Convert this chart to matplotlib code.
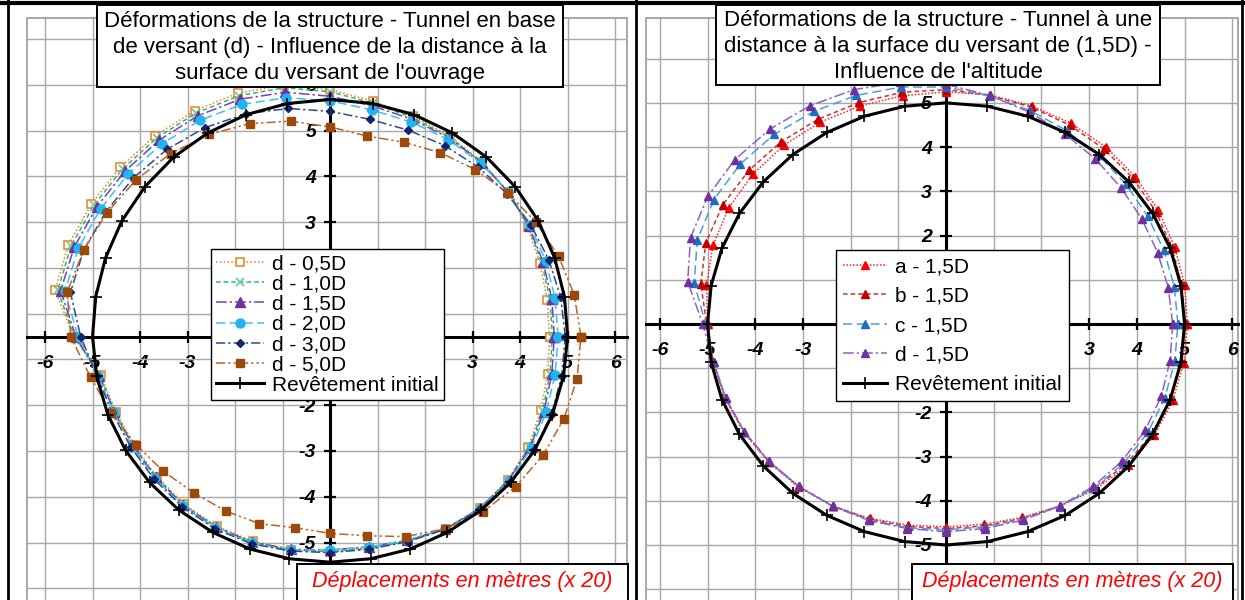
import numpy as np
import matplotlib
matplotlib.use("Agg")
import matplotlib.pyplot as plt
from matplotlib.patches import Rectangle
from matplotlib.lines import Line2D

W, H = 1245, 600
plt.rcParams['font.family'] = ['Liberation Sans', 'DejaVu Sans']

# Polar sampling of the lining nodes (degrees, counter-clockwise from +x)
angles_deg = [0, 10, 20, 30, 40, 50, 60, 70, 80, 90, 100, 110, 120, 130, 140, 150, 160, 170,
              180, 190, 200, 210, 220, 230, 240, 250, 260, 270, 280, 290, 300, 310, 320, 330, 340, 350]

# ---- Left chart: influence of the distance to the slope surface (radii, m) ----
left_labels = ["d - 0,5D", "d - 1,0D", "d - 1,5D", "d - 2,0D", "d - 3,0D", "d - 5,0D"]
r_d05 = [4.62, 4.64, 4.70, 4.80, 4.90, 4.98, 5.05, 5.12, 5.22, 5.40, 5.58, 5.66, 5.70, 5.73, 5.76, 5.80, 5.86, 5.88,
         5.40, 4.90, 4.80, 4.76, 4.76, 4.78, 4.78, 4.76, 4.73, 4.70, 4.70, 4.76, 4.86, 4.90, 4.88, 4.82, 4.72, 4.65]
r_d10 = [4.68, 4.70, 4.74, 4.82, 4.90, 4.97, 5.03, 5.09, 5.18, 5.35, 5.52, 5.60, 5.64, 5.67, 5.70, 5.74, 5.80, 5.82,
         5.38, 4.92, 4.82, 4.78, 4.78, 4.80, 4.80, 4.78, 4.74, 4.70, 4.70, 4.76, 4.86, 4.90, 4.89, 4.84, 4.76, 4.70]
r_d15 = [4.72, 4.74, 4.77, 4.83, 4.90, 4.96, 5.01, 5.05, 5.12, 5.25, 5.42, 5.52, 5.57, 5.60, 5.63, 5.67, 5.73, 5.76,
         5.35, 4.94, 4.83, 4.79, 4.79, 4.81, 4.81, 4.78, 4.72, 4.66, 4.67, 4.74, 4.85, 4.90, 4.90, 4.86, 4.79, 4.74]
r_d20 = [4.80, 4.81, 4.83, 4.86, 4.90, 4.94, 4.97, 4.99, 5.03, 5.15, 5.30, 5.40, 5.46, 5.50, 5.54, 5.58, 5.64, 5.67,
         5.30, 4.96, 4.85, 4.81, 4.81, 4.83, 4.83, 4.80, 4.74, 4.66, 4.67, 4.74, 4.85, 4.91, 4.92, 4.89, 4.84, 4.81]
r_d30 = [4.95, 4.93, 4.90, 4.88, 4.86, 4.84, 4.82, 4.80, 4.82, 4.92, 5.06, 5.18, 5.27, 5.34, 5.40, 5.45, 5.52, 5.55,
         5.25, 4.98, 4.88, 4.84, 4.84, 4.85, 4.85, 4.82, 4.76, 4.72, 4.72, 4.77, 4.86, 4.92, 4.95, 4.96, 4.96, 4.95]
r_d50 = [5.28, 5.22, 5.12, 5.00, 4.88, 4.76, 4.64, 4.52, 4.45, 4.58, 4.78, 4.95, 5.10, 5.22, 5.33, 5.42, 5.52, 5.62,
         5.46, 5.12, 4.90, 4.72, 4.58, 4.46, 4.40, 4.35, 4.24, 4.30, 4.42, 4.65, 4.85, 5.00, 5.10, 5.18, 5.24, 5.28]
r_init_left = [5.00, 5.01, 5.03, 5.06, 5.09, 5.12, 5.14, 5.16, 5.17, 5.18, 5.17, 5.16, 5.14, 5.12, 5.09, 5.06, 5.03, 5.01,
               5.00, 4.99, 4.98, 4.97, 4.96, 4.95, 4.94, 4.94, 4.93, 4.93, 4.93, 4.94, 4.94, 4.95, 4.96, 4.97, 4.98, 4.99]

# ---- Right chart: influence of the altitude, distance 1,5D (radii, m) ----
right_labels = ["a - 1,5D", "b - 1,5D", "c - 1,5D", "d - 1,5D"]
r_a = [5.06, 5.08, 5.10, 5.14, 5.18, 5.22, 5.24, 5.25, 5.26, 5.25, 5.24, 5.25, 5.27, 5.28, 5.28, 5.26, 5.20, 5.10,
       5.00, 4.96, 4.93, 4.90, 4.86, 4.82, 4.76, 4.68, 4.62, 4.59, 4.60, 4.66, 4.76, 4.88, 4.98, 5.04, 5.06, 5.06]
r_b = [5.00, 5.02, 5.04, 5.08, 5.12, 5.16, 5.19, 5.22, 5.25, 5.30, 5.32, 5.33, 5.35, 5.38, 5.40, 5.40, 5.36, 5.22,
       5.02, 4.95, 4.92, 4.89, 4.85, 4.80, 4.75, 4.70, 4.65, 4.63, 4.64, 4.68, 4.76, 4.85, 4.93, 4.98, 5.00, 5.00]
r_c = [4.86, 4.86, 4.86, 4.88, 4.92, 4.98, 5.05, 5.14, 5.24, 5.36, 5.44, 5.50, 5.55, 5.60, 5.63, 5.62, 5.55, 5.36,
       5.04, 4.95, 4.91, 4.88, 4.84, 4.80, 4.76, 4.72, 4.68, 4.66, 4.66, 4.70, 4.77, 4.84, 4.88, 4.89, 4.88, 4.87]
r_d = [4.75, 4.73, 4.72, 4.74, 4.79, 4.87, 4.97, 5.10, 5.25, 5.42, 5.55, 5.64, 5.70, 5.75, 5.78, 5.77, 5.70, 5.50,
       5.10, 4.96, 4.92, 4.88, 4.84, 4.80, 4.76, 4.73, 4.70, 4.70, 4.70, 4.72, 4.76, 4.80, 4.82, 4.82, 4.80, 4.77]
r_init_right = [5.00, 5.00, 5.00, 5.00, 5.00, 5.00, 5.00, 5.00, 5.00, 5.00, 5.00, 5.00, 5.00, 5.00, 5.00, 5.00, 5.00, 5.00,
                5.00, 5.00, 5.00, 5.00, 5.00, 5.00, 5.00, 5.00, 5.00, 5.00, 5.00, 5.00, 5.00, 5.00, 5.00, 5.00, 5.00, 5.00]

x_ticks = [-6, -5, -4, -3, -2, -1, 0, 1, 2, 3, 4, 5, 6]
x_ticklabels = ["-6", "-5", "-4", "-3", "-2", "-1", "", "1", "2", "3", "4", "5", "6"]
left_y_ticks = [-5.5, -4.5, -3.5, -2.5, -1.5, -0.5, 0.5, 1.5, 2.5, 3.5, 4.5, 5.5, 6.5]
left_y_ticklabels = ["-6", "-5", "-4", "-3", "-2", "-1", "1", "2", "3", "4", "5", "6", "7"]
right_y_ticks = [-6, -5, -4, -3, -2, -1, 0, 1, 2, 3, 4, 5, 6]
right_y_ticklabels = ["-6", "-5", "-4", "-3", "-2", "-1", "", "1", "2", "3", "4", "5", "6"]

left_title = ("Déformations de la structure - Tunnel en base\n"
              "de versant (d) - Influence de la distance à la\n"
              "surface du versant de l'ouvrage")
right_title = ("Déformations de la structure - Tunnel à une\n"
               "distance à la surface du versant de (1,5D) -\n"
               "Influence de l'altitude")
footer = "Déplacements en mètres (x 20)"
lining_label = "Revêtement initial"

TICK_FONT = dict(fontsize=14, fontweight="bold", fontstyle="italic")


def px_rect(x0, y0, x1, y1):
    return [x0 / W, 1 - y1 / H, (x1 - x0) / W, (y1 - y0) / H]


def closed_xy(radii):
    t = np.deg2rad(np.r_[angles_deg, 360.0])
    r = np.r_[radii, radii[0]]
    return r * np.cos(t), r * np.sin(t)


def style_axes(ax, xlim, ylim, yticks, ylabels):
    # axes cross at the origin; placing spines resets ticks, so do it first
    for side in ("top", "right"):
        ax.spines[side].set_visible(False)
    for side in ("left", "bottom"):
        ax.spines[side].set_position(("data", 0))
        ax.spines[side].set_color("black")
        ax.spines[side].set_linewidth(2.2)
        ax.spines[side].set_zorder(2.6)
    ax.set_xlim(*xlim)
    ax.set_ylim(*ylim)
    ax.tick_params(axis="both", direction="inout", length=8, width=1.6, color="black")
    ax.tick_params(axis="x", pad=9)
    ax.tick_params(axis="y", pad=6)
    ax.set_xticks(x_ticks, x_ticklabels, **TICK_FONT)
    ax.set_yticks(yticks, ylabels, **TICK_FONT)
    ax.grid(True, color="#A8A8A8", lw=1.0)
    ax.set_axisbelow(True)
    ax.add_patch(Rectangle((0, 0), 1, 1, transform=ax.transAxes, fill=False,
                           ec="#9A9A9A", lw=1.2, clip_on=False, zorder=0.5))


def boxed_text(x0, y0, x1, y1, text, dy=0, **kw):
    fig.add_artist(Rectangle((x0 / W, 1 - y1 / H), (x1 - x0) / W, (y1 - y0) / H,
                             transform=fig.transFigure, fc="white", ec="black", lw=1.4, zorder=10))
    fig.text((x0 + x1) / 2 / W, 1 - ((y0 + y1) / 2 + dy) / H, text, ha="center", va="center",
             zorder=11, **kw)


fig = plt.figure(figsize=(W / 100, H / 100), dpi=100)
fig.patch.set_facecolor("white")

# ----- left chart -----
axL = fig.add_axes(px_rect(27, 18, 627, 640))
style_axes(axL, (-6.38, 6.25), (-6.63, 6.96), left_y_ticks, left_y_ticklabels)

left_styles = [
    dict(color="#F07C28", ls=(0, (1, 1.5)), marker="s", mfc="white", mec="#F07C28", ms=6, mew=1.1),
    dict(color="#22C064", ls=(0, (3, 2)), marker="x", mfc="#22C064", mec="#5FD08C", ms=6, mew=1.2),
    dict(color="#7B3FB0", ls=(0, (7, 2, 1.5, 2)), marker="^", mfc="#7030A0", mec="#7030A0", ms=6.5),
    dict(color="#3CC0F0", ls=(0, (6, 3)), marker="o", mfc="#20B4F0", mec="#20B4F0", ms=6.5),
    dict(color="#2E4A8A", ls=(0, (6, 2, 1.5, 2)), marker="D", mfc="#13266B", mec="#13266B", ms=4),
    dict(color="#B8642A", ls=(0, (6, 2, 1.5, 2, 1.5, 2)), marker="s", mfc="#9C4A0C", mec="#9C4A0C", ms=6),
]
handlesL = []
for radii, lab, st in zip([r_d05, r_d10, r_d15, r_d20, r_d30, r_d50], left_labels, left_styles):
    x, y = closed_xy(radii)
    h, = axL.plot(x, y, lw=1.1, label=lab, zorder=3, **st)
    handlesL.append(h)
x, y = closed_xy(r_init_left)
h, = axL.plot(x, y, color="black", lw=2.2, marker="+", ms=9, mew=1.2, label=lining_label, zorder=3.5)
handlesL.append(h)

legL = axL.legend(handles=handlesL, loc="upper left", bbox_to_anchor=(211 / W, 1 - 249 / H),
                  bbox_transform=fig.transFigure, borderaxespad=0, fontsize=15, frameon=True,
                  fancybox=False, edgecolor="black", framealpha=1, handlelength=2.3,
                  handletextpad=0.4, labelspacing=0.06, borderpad=0.25, numpoints=1)
legL.get_frame().set_linewidth(1.0)
legL.set_zorder(6)

# ----- right chart -----
axR = fig.add_axes(px_rect(646, 18, 1238, 640))
style_axes(axR, (-6.29, 6.12), (-7.15, 6.92), right_y_ticks, right_y_ticklabels)

right_styles = [
    dict(color="#FF2020", ls=(0, (1, 1.2)), marker="^", mfc="#FF0000", mec="#FF0000", ms=6),
    dict(color="#D03030", ls=(0, (3, 2)), marker="^", mfc="#C00000", mec="#C00000", ms=6),
    dict(color="#4A9FE0", ls=(0, (6, 3)), marker="^", mfc="#1F6FC0", mec="#1F6FC0", ms=6),
    dict(color="#9060C8", ls=(0, (7, 2, 1.5, 2)), marker="^", mfc="#7030A0", mec="#7030A0", ms=6),
]
handlesR = []
for radii, lab, st in zip([r_a, r_b, r_c, r_d], right_labels, right_styles):
    x, y = closed_xy(radii)
    h, = axR.plot(x, y, lw=1.1, label=lab, zorder=3, **st)
    handlesR.append(h)
x, y = closed_xy(r_init_right)
h, = axR.plot(x, y, color="black", lw=2.2, marker="+", ms=9, mew=1.2, label=lining_label, zorder=3.5)
handlesR.append(h)

legR = axR.legend(handles=handlesR, loc="upper left", bbox_to_anchor=(836 / W, 1 - 250 / H),
                  bbox_transform=fig.transFigure, borderaxespad=0, fontsize=15, frameon=True,
                  fancybox=False, edgecolor="black", framealpha=1, handlelength=2.1,
                  handletextpad=0.4, labelspacing=0.5, borderpad=0.35, numpoints=1)
legR.get_frame().set_linewidth(1.0)
legR.set_zorder(6)

# ----- titles and footers -----
boxed_text(97, 5, 563, 87, left_title, dy=1.5, fontsize=16, linespacing=1.3)
boxed_text(716, 5, 1160, 85, right_title, dy=1.5, fontsize=16, linespacing=1.3)
boxed_text(297, 564, 628, 604, footer, dy=-2, fontsize=15.5, color="#FF0000", fontstyle="italic")
boxed_text(912, 564, 1233, 604, footer, dy=-2, fontsize=15.5, color="#FF0000", fontstyle="italic")

# ----- outer frame lines -----
fig.add_artist(Line2D([0, 1], [1 - 2.5 / H] * 2, transform=fig.transFigure, color="black", lw=3, zorder=12))
for xpix in (8, 636, 1242):
    fig.add_artist(Line2D([xpix / W] * 2, [0, 1], transform=fig.transFigure, color="black", lw=2, zorder=12))

fig.savefig("out.png", dpi=100)
